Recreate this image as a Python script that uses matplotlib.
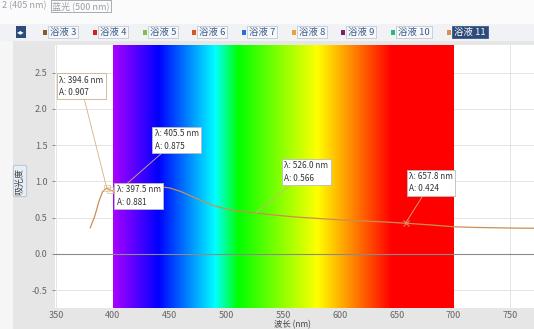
import numpy as np
import matplotlib
matplotlib.use("Agg")
import matplotlib.pyplot as plt
from matplotlib.patches import Rectangle

plt.rcParams['font.family'] = ['Noto Sans CJK SC', 'DejaVu Sans']

# absorbance curve
wavelength = [380, 384, 388, 391, 394.6, 397.5, 401, 405.5, 412, 420, 430, 440, 450,
              460, 470, 480, 490, 500, 510, 526, 540, 560, 580, 600, 620, 640,
              657.8, 680, 700, 720, 740, 760, 772]
absorb = [0.36, 0.52, 0.74, 0.86, 0.907, 0.881, 0.86, 0.875, 0.90, 0.92, 0.93, 0.93, 0.91,
          0.86, 0.79, 0.72, 0.66, 0.62, 0.59, 0.566, 0.54, 0.51, 0.49, 0.47, 0.455, 0.44,
          0.424, 0.40, 0.375, 0.365, 0.36, 0.355, 0.355]

# peak labels: wavelength, absorbance, box position (data coords)
peak_nm = [394.6, 405.5, 397.5, 526.0, 657.8]
peak_a = [0.907, 0.875, 0.881, 0.566, 0.424]
box_x = [352.5, 437.0, 403.5, 551.0, 661.0]
box_y = [2.46, 1.72, 0.95, 1.28, 1.13]

tabs = ["浴液 3", "浴液 4", "浴液 5", "浴液 6", "浴液 7", "浴液 8", "浴液 9", "浴液 10", "浴液 11"]
tab_colors = ["#8b5a2b", "#d62020", "#7cc24a", "#d9541e", "#2a6ed8", "#f0a030",
              "#7a1f6e", "#2cb87a", "#d89050"]
tab_x = [42, 92, 142, 191, 241, 291, 340, 390, 446]


def wl_rgb(w):
    if w < 440:
        return (-(w - 440) / 60.0, 0.0, 1.0)
    if w < 490:
        return (0.0, (w - 440) / 50.0, 1.0)
    if w < 510:
        return (0.0, 1.0, -(w - 510) / 20.0)
    if w < 580:
        return ((w - 510) / 70.0, 1.0, 0.0)
    if w < 645:
        return (1.0, -(w - 645) / 65.0, 0.0)
    return (1.0, 0.0, 0.0)


W, H = 534, 329
fig = plt.figure(figsize=(W / 100, H / 100), dpi=100)
fig.patch.set_facecolor("#e6e6e6")

# white left edge, top strip + tab bar
fig.patches.append(Rectangle((0, 0), 13 / W, 1, transform=fig.transFigure,
                             fc="#f6f6f6", ec="none", zorder=0))
fig.patches.append(Rectangle((0, 1 - 24 / H), 1, 24 / H, transform=fig.transFigure,
                             fc="#fbfbfb", ec="none", zorder=0))
fig.patches.append(Rectangle((0, 1 - 41 / H), 1, 17 / H, transform=fig.transFigure,
                             fc="#f0f2f5", ec="none", zorder=0))
fig.text(2 / W, 1 - 6 / H, "2 (405 nm)", fontsize=6.5, color="#9aa0a8", va="center")
fig.text(52 / W, 1 - 6 / H, "蓝光 (500 nm)", fontsize=6.5, color="#9aa0a8", va="center",
         bbox=dict(boxstyle="square,pad=0.15", fc="none", ec="#9aa0a8", lw=0.6))
fig.text(21 / W, 1 - 32 / H, "◂▸", fontsize=5.5, color="white", ha="center", va="center",
         family=["DejaVu Sans"],
         bbox=dict(boxstyle="square,pad=0.2", fc="#2c4a7a", ec="none"))

for i, t in enumerate(tabs):
    last = i == len(tabs) - 1
    fig.text((tab_x[i] + 8) / W, 1 - 32 / H, t, fontsize=6.8, va="center",
             color="white" if last else "#3a5a8a",
             bbox=dict(boxstyle="square,pad=0.2", fc="#2c4a7a" if last else "#f7f8fa",
                       ec="#2c4a7a" if last else "#b8c0cc", lw=0.5))
    fig.patches.append(Rectangle(((tab_x[i] + 1) / W, 1 - 34.5 / H), 4 / W, 5 / H,
                                 transform=fig.transFigure, fc=tab_colors[i], ec="none",
                                 zorder=5))

ax = fig.add_axes([55 / W, 21 / H, 1 - 55 / W, (308 - 45) / H])
ax.set_facecolor("white")
ax.set_xlim(349, 771)
ax.set_ylim(-0.745, 2.88)

ax.set_xticks([350, 400, 450, 500, 550, 600, 650, 700, 750])
ax.set_yticks([-0.5, 0.0, 0.5, 1.0, 1.5, 2.0, 2.5])
ax.set_yticklabels(["-0.5", "0.0", "0.5", "1.0", "1.5", "2.0", "2.5"])
ax.tick_params(labelsize=6.5, colors="#666666", length=2, width=0.5)
ax.tick_params(axis="x", length=0, pad=2)
ax.grid(True, color="#e4e4e4", lw=0.7)
ax.set_axisbelow(True)
for s in ax.spines.values():
    s.set_visible(False)

# visible spectrum band
wl = np.linspace(400, 700, 600)
band = np.array([wl_rgb(w) for w in wl])[None, :, :]
ax.imshow(band, extent=[400, 700, -0.745, 2.88], aspect="auto", zorder=1)
ax.axhline(0, color="#8a8a8a", lw=0.8, zorder=2)

ax.plot(wavelength, absorb, color="#c98f55", lw=0.9, zorder=3)

for i in range(len(peak_nm)):
    ax.annotate("λ: %.1f nm\nA: %.3f" % (peak_nm[i], peak_a[i]),
                xy=(peak_nm[i], peak_a[i]), xytext=(box_x[i], box_y[i]),
                fontsize=5.9, color="#333333", ha="left", va="top", linespacing=1.5,
                bbox=dict(boxstyle="square,pad=0.3", fc="white",
                          ec="#c9b48e" if i == 0 else "#bbbbbb", lw=0.6),
                arrowprops=dict(arrowstyle="-", color="#d8b080", lw=0.6,
                                shrinkA=0, shrinkB=0),
                zorder=6)

ax.plot([394.6, 397.5], [0.907, 0.881], ls="none", marker="s", ms=5, mfc="none",
        mec="#e0c090", mew=0.5, zorder=4)
ax.plot([657.8], [0.424], ls="none", marker="x", ms=5, mec="#e08060", mew=0.8, zorder=4)

fig.text(20 / W, 1 - 181 / H, "吸光度", fontsize=6.5, color="#444444", rotation=90,
         ha="center", va="center",
         bbox=dict(boxstyle="round,pad=0.25", fc="#e8eef6", ec="#a8b4c4", lw=0.5))
fig.text(292 / W, 0 / H, "波长 (nm)", fontsize=6.0, color="#444444", ha="center",
         va="bottom")

fig.savefig("out.png", dpi=100)
